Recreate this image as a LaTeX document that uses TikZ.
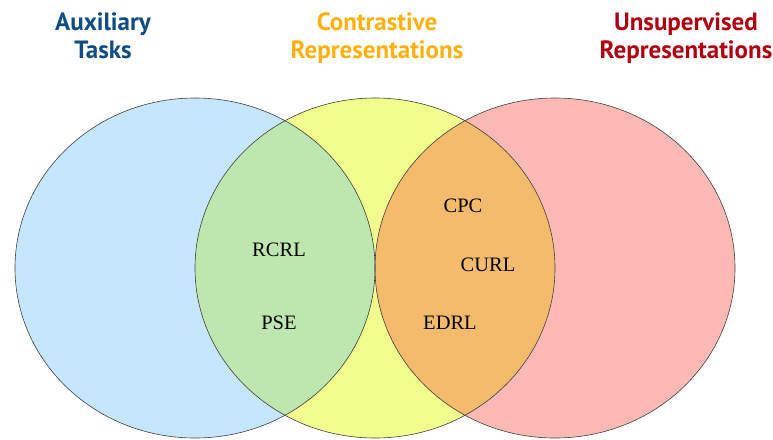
\documentclass[tikz,border=0pt]{standalone}
\usepackage{fontspec}
\setmainfont{Liberation Serif}
\newfontfamily\titlefont{PT Sans}
\begin{document}
\begin{tikzpicture}[x=1pt,y=-1pt,
  settitle/.style={font=\titlefont\bfseries\fontsize{25}{28}\selectfont, align=center, inner sep=0pt, anchor=base},
  method/.style={font=\fontsize{20.5}{24}\selectfont, inner sep=0pt},
  setline/.style={draw=black!75, line width=0.6pt}]
\useasboundingbox (0,0) rectangle (773,439);
\definecolor{auxfill}{HTML}{C5E6FD}
\definecolor{confill}{HTML}{F1FD8C}
\definecolor{unsfill}{HTML}{FDBAB5}
\definecolor{acfill}{HTML}{BDE7AF}
\definecolor{cufill}{HTML}{F4BB6D}
\definecolor{auxtext}{HTML}{0E4C82}
\definecolor{context}{HTML}{FDB10E}
\definecolor{unstext}{HTML}{B0000F}

% the three sets
\coordinate (ca) at (195,268);
\coordinate (cc) at (375,268);
\coordinate (cu) at (555,268);
\fill[auxfill] (ca) ellipse [x radius=180, y radius=170];
\fill[confill] (cc) ellipse [x radius=180, y radius=170];
\fill[unsfill] (cu) ellipse [x radius=180, y radius=170];
% overlaps
\begin{scope}
  \clip (ca) ellipse [x radius=180, y radius=170];
  \fill[acfill] (cc) ellipse [x radius=180, y radius=170];
\end{scope}
\begin{scope}
  \clip (cc) ellipse [x radius=180, y radius=170];
  \fill[cufill] (cu) ellipse [x radius=180, y radius=170];
\end{scope}
% outlines
\draw[setline] (ca) ellipse [x radius=180, y radius=170];
\draw[setline] (cc) ellipse [x radius=180, y radius=170];
\draw[setline] (cu) ellipse [x radius=180, y radius=170];

% set titles (anchored at the baseline of the second line)
\node[settitle, text=auxtext] (taux) at (103,58) {Auxiliary\\Tasks};
\node[settitle, text=context] (tcon) at (377,58) {Contrastive\\Representations};
\node[settitle, text=unstext] (tuns) at (686,58) {Unsupervised\\Representations};

% methods
\node[method] (rcrl) at (279,250) {RCRL};
\node[method] (pse) at (279,323) {PSE};
\node[method] (cpc) at (463,206) {CPC};
\node[method] (curl) at (488,265) {CURL};
\node[method] (edrl) at (450,323) {EDRL};
\end{tikzpicture}
\end{document}
